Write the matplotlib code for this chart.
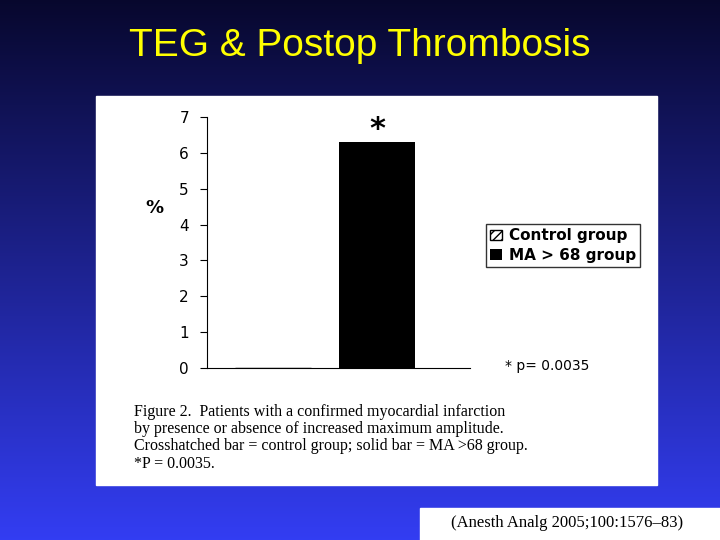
import matplotlib.pyplot as plt
import matplotlib.patches as mpatches
import numpy as np

groups = ['Control group', 'MA > 68 group']
values = [0.0, 6.3]
yticks = [0, 1, 2, 3, 4, 5, 6, 7]

fig = plt.figure(figsize=(7.2, 5.4), dpi=100)

# gradient slide background
bg = fig.add_axes([0, 0, 1, 1])
grad = np.linspace(0, 1, 256).reshape(-1, 1)
top = np.array([0.03, 0.03, 0.18])
bot = np.array([0.20, 0.24, 0.95])
img = top + (bot - top) * grad[..., None]
bg.imshow(img, aspect='auto', extent=[0, 1, 0, 1], origin='upper')
bg.axis('off')

fig.text(0.5, 0.915, 'TEG & Postop Thrombosis', color='#ffff00',
         fontsize=28, ha='center', va='center', family='Liberation Sans')

# white figure panel
fig.patches.append(mpatches.Rectangle((96/720, 1-485/540), 561/720, 389/540,
                                      transform=fig.transFigure, color='white', zorder=1))

ax = fig.add_axes([207/720, 1-368/540, 263/720, 251/540])
ax.set_zorder(2)
ax.patch.set_alpha(0)
ax.bar([0.25], [values[0]], width=0.289, color='white', edgecolor='black', hatch='////')
ax.bar([0.646], [values[1]], width=0.289, color='black')
ax.text(0.646, 6.65, '*', ha='center', va='center', fontsize=22, fontweight='bold')
ax.set_xlim(0, 1)
ax.set_ylim(0, 7)
ax.set_yticks(yticks)
ax.set_xticks([])
ax.tick_params(axis='y', direction='out', length=5, labelsize=11, pad=8)
for s in ['top', 'right']:
    ax.spines[s].set_visible(False)
ax.set_ylabel('%', rotation=0, fontsize=13, fontweight='bold', labelpad=40)
ax.yaxis.set_label_coords(-0.2, 0.6)

handles = [mpatches.Patch(facecolor='white', edgecolor='black', hatch='////', label=groups[0]),
           mpatches.Patch(facecolor='black', label=groups[1])]
fig.legend(handles=handles, loc='upper left', bbox_to_anchor=(478/720, 1-216/540),
           frameon=True, edgecolor='black', fancybox=False, prop={'weight': 'bold', 'size': 11},
           handlelength=0.8, handletextpad=0.4, borderpad=0.3, labelspacing=0.3)

fig.text(505/720, 1-366/540, '* p= 0.0035', fontsize=10, va='center', zorder=3)

caption = ('Figure 2.  Patients with a confirmed myocardial infarction\n'
           'by presence or absence of increased maximum amplitude.\n'
           'Crosshatched bar = control group; solid bar = MA >68 group.\n'
           '*P = 0.0035.')
fig.text(134/720, 1-404/540, caption, fontsize=11.5, va='top', family='Liberation Serif',
         linespacing=1.1, zorder=3)

fig.patches.append(mpatches.Rectangle((420/720, 0), 300/720, 32/540,
                                      transform=fig.transFigure, color='white', zorder=1))
fig.text(567/720, 17/540, '(Anesth Analg 2005;100:1576\u201383)', fontsize=12,
         ha='center', va='center', family='Liberation Serif', zorder=3)

fig.savefig('out.png', dpi=100)
